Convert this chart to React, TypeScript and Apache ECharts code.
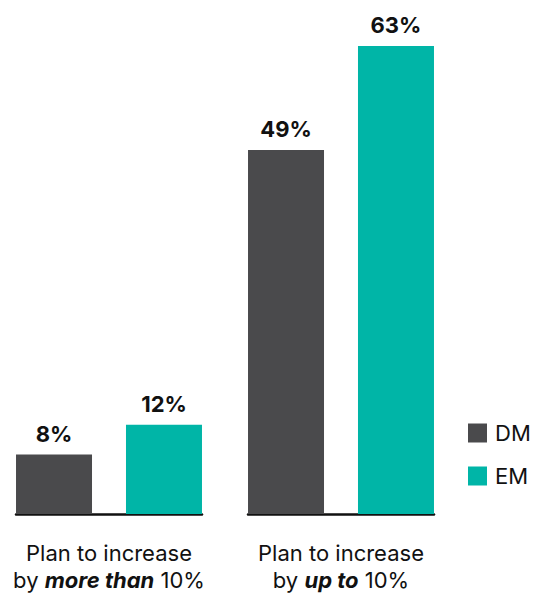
import React, { useEffect, useRef } from "react";
import * as echarts from "echarts";

const categories = ["more than", "up to"];
const seriesNames = ["DM", "EM"];
const dmValues = [8, 49];
const emValues = [12, 63];
const colors = ["#4a4a4c", "#00b5a7"];
const FONT = "Inter, 'Liberation Sans', Arial, sans-serif";

export default function App() {
  const ref = useRef<HTMLDivElement>(null);
  useEffect(() => {
    if (!ref.current) return;
    const chart = echarts.init(ref.current, undefined, { renderer: "svg" });
    const grids = categories.map((_, i) => ({
      left: 16 + i * 232,
      width: 186,
      top: 46,
      height: 468,
    }));
    const xAxes = categories.map((c, i) => ({
      type: "category" as const,
      gridIndex: i,
      data: [c],
      axisLine: { show: true, lineStyle: { color: "#111", width: 2.5 } },
      axisTick: { show: false },
      axisLabel: {
        margin: 25,
        fontFamily: FONT,
        fontSize: 22,
        color: "#111",
        lineHeight: 27,
        formatter: (v: string) => `Plan to increase\nby {b|${v}} 10%`,
        rich: {
          b: {
            fontFamily: FONT,
            fontSize: 22,
            fontWeight: "bold",
            fontStyle: "italic",
            color: "#111",
            lineHeight: 27,
          },
        },
      },
    }));
    const yAxes = categories.map((_, i) => ({
      type: "value" as const,
      gridIndex: i,
      min: 0,
      max: 63,
      show: false,
    }));
    const label = {
      show: true,
      position: "top" as const,
      distance: 10,
      formatter: "{c}%",
      fontFamily: FONT,
      fontSize: 22,
      fontWeight: "bold" as const,
      color: "#111",
    };
    const series: any[] = [];
    categories.forEach((_, i) => {
      [dmValues, emValues].forEach((vals, s) => {
        series.push({
          type: "bar",
          name: seriesNames[s],
          xAxisIndex: i,
          yAxisIndex: i,
          data: [vals[i]],
          barWidth: 76,
          barGap: "44.7%",
          itemStyle: { color: colors[s] },
          label,
        });
      });
    });
    chart.setOption({
      animation: false,
      grid: grids,
      xAxis: xAxes,
      yAxis: yAxes,
      legend: {
        data: seriesNames,
        orient: "vertical",
        left: 468,
        top: 422,
        padding: 0,
        itemWidth: 19,
        itemHeight: 19,
        itemGap: 21,
        icon: "rect",
        textStyle: { fontFamily: FONT, fontSize: 22, color: "#111", padding: [0, 0, 0, 3] },
      },
      series,
    });
    return () => chart.dispose();
  }, []);
  return <div ref={ref} style={{ width: 537, height: 594, position: "absolute", left: 0, top: 0 }} />;
}
